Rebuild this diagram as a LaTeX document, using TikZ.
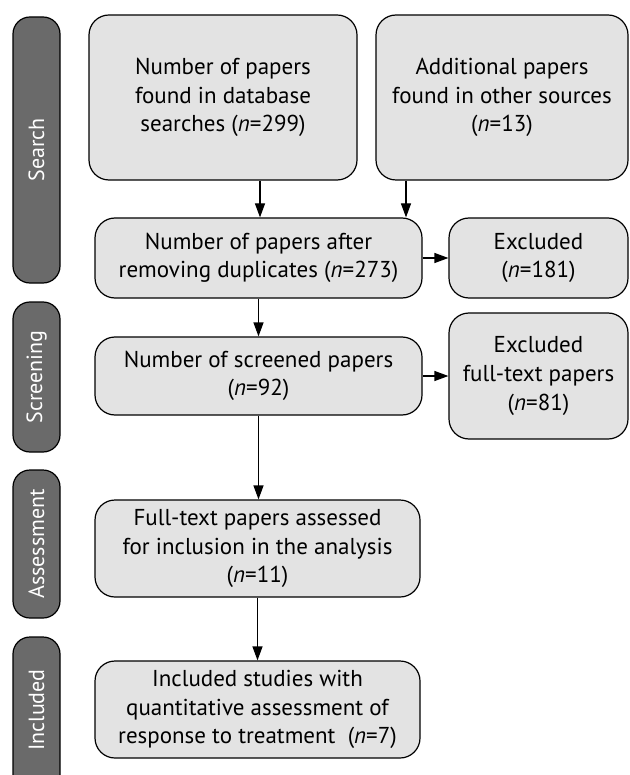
\documentclass[tikz,border=0pt]{standalone}
\usepackage{fontspec}
\setmainfont{PT Sans}
\newfontfamily\barfont{PT Sans}
\usetikzlibrary{arrows.meta}
\definecolor{boxfill}{RGB}{227,227,227}
\definecolor{barfill}{RGB}{106,106,106}
\begin{document}
\begin{tikzpicture}[x=1pt,y=-1pt,
  box/.style={draw=black, line width=1.2pt, fill=boxfill, rounded corners=20pt,
    align=center, inner sep=0pt, font=\fontsize{23}{28.7}\selectfont},
  bar/.style={draw=black, line width=1.2pt, fill=barfill, rounded corners=17pt,
    rotate=90, text=white, inner sep=0pt, minimum height=47pt,
    font=\barfont\fontsize{22}{24}\selectfont},
  arr/.style={line width=1.2pt, -{Triangle[length=14pt,width=10pt]}}]
\clip (0,0) rectangle (629,775);
% stage bars
\node[bar, minimum width=266pt] (sSearch) at (36.5,150) {Search};
\node[bar, minimum width=150pt] (sScreen) at (36.5,377) {Screening};
\node[bar, minimum width=148pt] (sAssess) at (36.5,544) {Assessment};
\node[bar, minimum width=163pt] (sIncl) at (36.5,718.5) {};
\node[text=white, rotate=90, font=\barfont\fontsize{22}{24}\selectfont] (tIncl) at (36.5,710) {Included};
% boxes
\node[box, minimum width=268pt, minimum height=165pt] (b1) at (223,97.5)
  {Number of papers\\found in database\\searches (\textit{n}=299)};
\node[box, minimum width=252pt, minimum height=165pt] (b2) at (502,97.5)
  {Additional papers\\found in other sources\\(\textit{n}=13)};
\node[box, minimum width=327pt, minimum height=80pt] (b3) at (258.5,258)
  {Number of papers after\\removing duplicates (\textit{n}=273)};
\node[box, minimum width=179pt, minimum height=80pt] (e1) at (538.5,258)
  {Excluded\\(\textit{n}=181)};
\node[box, minimum width=327pt, minimum height=78pt] (b4) at (258.5,376)
  {Number of screened papers\\(\textit{n}=92)};
\node[box, minimum width=179pt, minimum height=126pt] (e2) at (538.5,376)
  {Excluded\\full-text papers\\(\textit{n}=81)};
\node[box, minimum width=325pt, minimum height=97pt] (b5) at (257.5,548.5)
  {Full-text papers assessed\\for inclusion in the analysis\\(\textit{n}=11)};
\node[box, minimum width=325pt, minimum height=97pt] (b6) at (257.5,709.5)
  {Included studies with\\quantitative assessment of\\response to treatment\ \ (\textit{n}=7)};
% connectors
\draw[arr] ([xshift=37pt]b1.south) -- ([xshift=37pt]b1.south |- b3.north);
\draw[arr] ([xshift=-96pt]b2.south) -- ([xshift=-96pt]b2.south |- b3.north);
\draw[arr] (b3.east) -- (e1.west);
\draw[arr] (b3.south) -- (b4.north);
\draw[arr] (b4.east) -- (e2.west);
\draw[arr] (b4.south) -- (b4.south |- b5.north);
\draw[arr] (b5.south) -- (b6.north);
\end{tikzpicture}
\end{document}
